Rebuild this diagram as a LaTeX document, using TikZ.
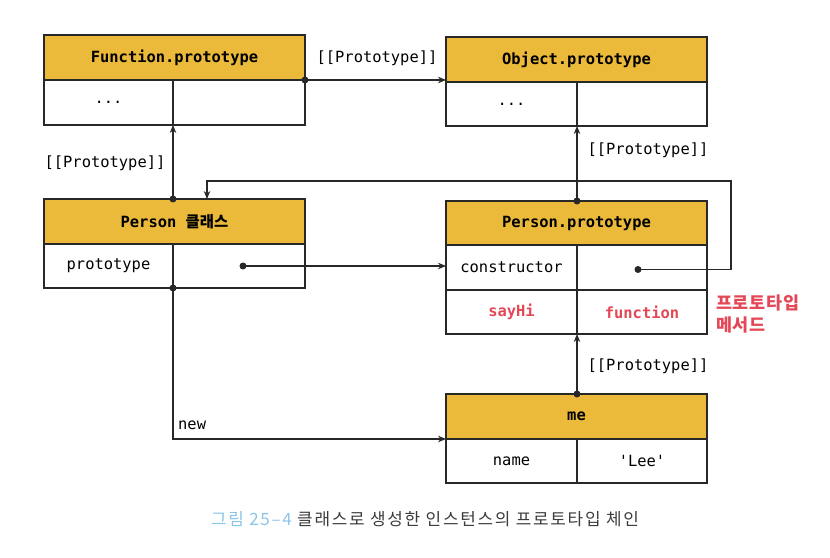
\documentclass[tikz,border=0pt]{standalone}
\usepackage{fontspec}
\setmonofont{DejaVu Sans Mono}
\newfontfamily\kr{Noto Sans CJK KR}
\newfontfamily\krcap{Noto Sans CJK KR}[LetterSpace=10]
\newfontfamily\krnote{Noto Sans CJK KR}[LetterSpace=4]
\usetikzlibrary{arrows.meta}
\definecolor{gold}{RGB}{236,186,58}
\definecolor{lc}{RGB}{40,40,40}
\definecolor{redt}{RGB}{228,72,86}
\definecolor{capblue}{RGB}{140,196,232}
\definecolor{capgray}{RGB}{60,60,60}
\tikzset{
  box/.style={draw=lc, line width=1.1bp, inner sep=0pt, outer sep=0pt, anchor=north west},
  hdr/.style={box, fill=gold, font=\ttfamily\bfseries\fontsize{15.5}{18}\selectfont},
  cell/.style={box, fill=white, font=\ttfamily\fontsize{15.5}{18}\selectfont},
  rcell/.style={box, fill=white, text=redt, font=\ttfamily\bfseries\fontsize{15.5}{18}\selectfont},
  lbl/.style={font=\ttfamily\fontsize{15.5}{18}\selectfont, inner sep=0pt},
  conn/.style={draw=lc, line width=1.1bp, -{Stealth[length=8bp,width=6.5bp]}},
  dot/.style={fill=lc}
}
\begin{document}
\begin{tikzpicture}[x=1bp,y=-1bp]
\useasboundingbox (0,0) rectangle (830,558);
% Function.prototype
\node[hdr, minimum width=261bp, minimum height=45bp] (fph) at (44,35) {Function.prototype};
\node[cell, minimum width=129bp, minimum height=45bp] (fpa) at (44,80) {...};
\node[cell, minimum width=132bp, minimum height=45bp] (fpb) at (173,80) {};
% Object.prototype
\node[hdr, minimum width=261bp, minimum height=45bp] (obh) at (446,37) {Object.prototype};
\node[cell, minimum width=131bp, minimum height=44bp] (oba) at (446,82) {...};
\node[cell, minimum width=130bp, minimum height=44bp] (obb) at (577,82) {};
% Person class
\node[hdr, minimum width=261bp, minimum height=45bp] (pch) at (44,199) {Person {\kr\bfseries 클래스}};
\node[cell, minimum width=129bp, minimum height=44bp] (pca) at (44,244) {prototype};
\node[cell, minimum width=132bp, minimum height=44bp] (pcb) at (173,244) {};
% Person.prototype
\node[hdr, minimum width=261bp, minimum height=44bp] (pph) at (446,201) {Person.prototype};
\node[cell, minimum width=131bp, minimum height=45bp] (ppa) at (446,245) {constructor};
\node[cell, minimum width=130bp, minimum height=45bp] (ppb) at (577,245) {};
\node[rcell, minimum width=131bp, minimum height=44bp] (ppc) at (446,290) {sayHi};
\node[rcell, minimum width=130bp, minimum height=44bp] (ppd) at (577,290) {function};
% me
\node[hdr, minimum width=261bp, minimum height=45bp] (meh) at (446,394) {me};
\node[cell, minimum width=131bp, minimum height=44bp] (mea) at (446,439) {name};
\node[cell, minimum width=130bp, minimum height=44bp] (meb) at (577,439) {'Lee'};
% red note
\node[anchor=west, align=left, text=redt, inner sep=0pt, font=\krnote\bfseries\fontsize{17.5}{22}\selectfont] (note) at (716,314) {프로토타입\\메서드};
% labels
\node[lbl] (l1) at (377,58) {[[Prototype]]};
\node[lbl] (l2) at (105,163) {[[Prototype]]};
\node[lbl] (l3) at (648,150) {[[Prototype]]};
\node[lbl] (l4) at (648,366) {[[Prototype]]};
\node[lbl, anchor=west] (l5) at (178,425) {new};
% connectors
\coordinate (c1) at (fph.south east);
\fill[dot] (c1) circle (3.5bp);
\draw[conn] (c1) -- (c1 -| obh.west);
\coordinate (c2) at (pca.east |- pch.north);
\fill[dot] (c2) circle (3.5bp);
\draw[conn] (c2) -- (fpa.south east);
\coordinate (c3) at ([xshift=4bp]pcb.center);
\fill[dot] (c3) circle (3.5bp);
\draw[conn] (c3) -- (c3 -| ppa.west);
\coordinate (c4) at ([xshift=-4bp,yshift=-2bp]ppb.center);
\coordinate (loopR) at (731,181);
\coordinate (loopL) at (207,181);
\fill[dot] (c4) circle (3.5bp);
\draw[conn] (c4) -| (loopR) -- (loopL) -- (loopL |- pch.north);
\coordinate (c5) at (ppa.east |- pph.north);
\fill[dot] (c5) circle (3.5bp);
\draw[conn] (c5) -- (oba.south east);
\coordinate (c6) at (mea.east |- meh.north);
\fill[dot] (c6) circle (3.5bp);
\draw[conn] (c6) -- (ppc.south east);
\coordinate (c7) at (pca.south east);
\fill[dot] (c7) circle (3.5bp);
\draw[conn] (c7) |- (meh.south west);
% caption
\node[inner sep=0pt, font=\krcap\fontsize{17}{20}\selectfont] (cap) at (425,519) {\textcolor{capblue}{그림 25–4} \textcolor{capgray}{클래스로 생성한 인스턴스의 프로토타입 체인}};
\end{tikzpicture}
\end{document}
